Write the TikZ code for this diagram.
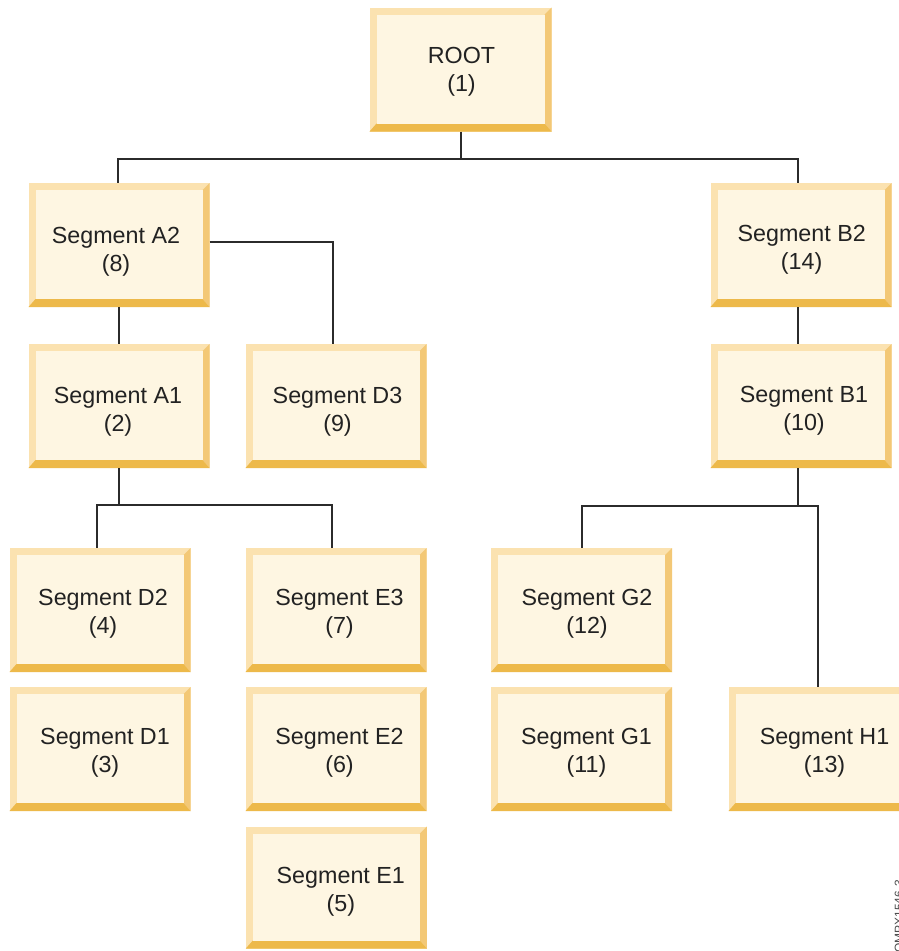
\documentclass[tikz,border=0pt]{standalone}
\usepackage{fontspec}
\setmainfont{Liberation Sans}
\usetikzlibrary{calc}

\definecolor{bevlight}{HTML}{FBE2B0}
\definecolor{bevright}{HTML}{F3C876}
\definecolor{bevbottom}{HTML}{EDB94A}
\definecolor{boxfill}{HTML}{FEF6E2}
\definecolor{linecol}{HTML}{2B2B2B}
\definecolor{txtcol}{HTML}{222222}

\tikzset{
  segbox/.style={rectangle, inner sep=0pt, outer sep=0pt,
    minimum width=181pt, minimum height=124pt,
    path picture={
      \path (path picture bounding box.south west) coordinate (pp-sw)
            (path picture bounding box.north east) coordinate (pp-ne)
            (path picture bounding box.south east) coordinate (pp-se);
      \fill[bevlight] (pp-sw) rectangle (pp-ne);
      \fill[bevright] (pp-se) -- (pp-ne) -- ([shift={(-7pt,-7pt)}]pp-ne)
                      -- ([shift={(-7pt,8pt)}]pp-se) -- cycle;
      \fill[bevbottom] (pp-sw) -- (pp-se) -- ([shift={(-7pt,8pt)}]pp-se)
                       -- ([shift={(7pt,8pt)}]pp-sw) -- cycle;
      \fill[boxfill] ([shift={(7pt,8pt)}]pp-sw) rectangle ([shift={(-7pt,-7pt)}]pp-ne);
    }},
  segtext/.style={align=center, text=txtcol, inner sep=0pt,
    font=\fontsize{23.3pt}{28pt}\selectfont},
  conn/.style={draw=linecol, line width=2pt},
}

\begin{document}
\begin{tikzpicture}[x=1pt, y=-1pt]
  \useasboundingbox (0,0) rectangle (899,951);
  \fill[white] (0,0) rectangle (899,951);

  % segment boxes (centres in picture units, y downward)
  \node[segbox, minimum width=182pt] (ROOT) at (460.5,69.5) {};
  \node[segbox] (A2) at (119,245) {};
  \node[segbox] (B2) at (801,245) {};
  \node[segbox] (A1) at (119,406) {};
  \node[segbox] (D3) at (336,406) {};
  \node[segbox] (B1) at (801,406) {};
  \node[segbox] (D2) at (100,610) {};
  \node[segbox] (E3) at (336,610) {};
  \node[segbox] (G2) at (581.5,610) {};
  \node[segbox] (D1) at (100,749) {};
  \node[segbox] (E2) at (336,749) {};
  \node[segbox] (G1) at (581.5,749) {};
  \node[segbox] (H1) at (819,749) {};
  \node[segbox, minimum height=122pt] (E1) at (336.3,887.5) {};

  % box captions
  \node[segtext] (ROOTt) at ([shift={(1,2.5)}]ROOT.center) {ROOT\\(1)};
  \node[segtext] (A2t) at ([shift={(-3,7)}]A2.center) {Segment A2\\(8)};
  \node[segtext] (B2t) at ([shift={(0.7,5)}]B2.center) {Segment B2\\(14)};
  \node[segtext] (A1t) at ([shift={(-1,5.5)}]A1.center) {Segment A1\\(2)};
  \node[segtext] (D3t) at ([shift={(1.5,5.5)}]D3.center) {Segment D3\\(9)};
  \node[segtext] (B1t) at ([shift={(3,5)}]B1.center) {Segment B1\\(10)};
  \node[segtext] (D2t) at ([shift={(3,3.7)}]D2.center) {Segment D2\\(4)};
  \node[segtext] (E3t) at ([shift={(3.5,3.7)}]E3.center) {Segment E3\\(7)};
  \node[segtext] (G2t) at ([shift={(5.5,3.7)}]G2.center) {Segment G2\\(12)};
  \node[segtext] (D1t) at ([shift={(5,4)}]D1.center) {Segment D1\\(3)};
  \node[segtext] (E2t) at ([shift={(3.5,4)}]E2.center) {Segment E2\\(6)};
  \node[segtext] (G1t) at ([shift={(5,4)}]G1.center) {Segment G1\\(11)};
  \node[segtext] (H1t) at ([shift={(5.5,4)}]H1.center) {Segment H1\\(13)};
  \node[segtext] (E1t) at ([shift={(4.5,4.5)}]E1.center) {Segment E1\\(5)};

  % hierarchy connectors
  \draw[conn] (ROOT.south) -- ++(0,27) coordinate (rootj);
  \draw[conn] (rootj) -| ([xshift=-1pt]A2.north);
  \draw[conn] (rootj) -| ([xshift=-3pt]B2.north);

  \draw[conn] ([yshift=3pt]A2.east) -| ([xshift=-3pt]D3.north);
  \draw[conn] (A2.south) -- (A1.north);
  \draw[conn] ([xshift=-3pt]B2.south) -- ([xshift=-3pt]B1.north);

  \draw[conn] (A1.south) -- ++(0,37) coordinate (a1j);
  \draw[conn] (a1j) -| ([xshift=-3pt]D2.north);
  \draw[conn] (a1j) -| ([xshift=-4pt]E3.north);

  \draw[conn] ([xshift=-3pt]B1.south) -- ++(0,38) coordinate (b1j);
  \draw[conn] (b1j) -| (G2.north);
  \draw[conn] (b1j) -| ([xshift=-1pt]H1.north);

  % figure identifier along the right margin
  \node[rotate=90, anchor=base west, inner sep=0pt, text=black!70,
        font=\fontsize{12pt}{14pt}\selectfont] (figid) at (903,953) {OMPX1546-3};
\end{tikzpicture}
\end{document}
